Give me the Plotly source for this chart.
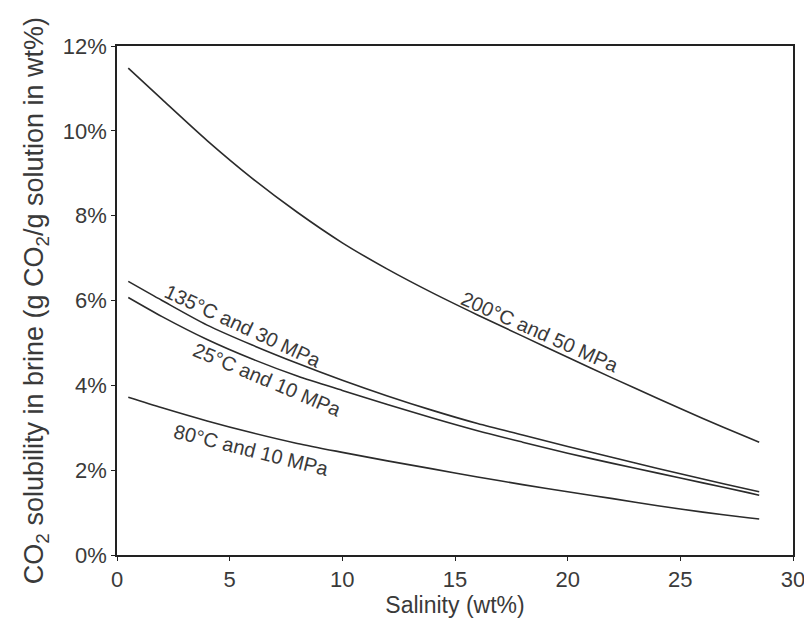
import plotly.graph_objects as go

salinity = [0.5, 2, 4, 6, 8, 10, 12, 14, 16, 18, 20, 22, 24, 26, 28, 28.5]
sol_200C_50MPa = [11.48, 10.74, 9.77, 8.88, 8.08, 7.36, 6.74, 6.18, 5.66, 5.16, 4.66, 4.17, 3.69, 3.22, 2.77, 2.66]
sol_135C_30MPa = [6.45, 6.0, 5.42, 4.95, 4.52, 4.12, 3.75, 3.41, 3.10, 2.83, 2.56, 2.30, 2.04, 1.79, 1.55, 1.49]
sol_25C_10MPa = [6.07, 5.62, 5.08, 4.62, 4.22, 3.88, 3.55, 3.23, 2.93, 2.66, 2.40, 2.16, 1.93, 1.70, 1.47, 1.41]
sol_80C_10MPa = [3.72, 3.47, 3.16, 2.88, 2.63, 2.42, 2.22, 2.03, 1.84, 1.66, 1.49, 1.33, 1.16, 1.01, 0.88, 0.85]

series = [
    ("200°C and 50 MPa", sol_200C_50MPa),
    ("135°C and 30 MPa", sol_135C_30MPa),
    ("25°C and 10 MPa", sol_25C_10MPa),
    ("80°C and 10 MPa", sol_80C_10MPa),
]

# label placement (x, y in data units, rotation)
labels = [
    ("200°C and 50 MPa", 18.77, 5.26, 24),
    ("135°C and 30 MPa", 5.59, 5.40, 25),
    ("25°C and 10 MPa", 6.70, 4.13, 23),
    ("80°C and 10 MPa", 5.95, 2.48, 14),
]

x_ticks = [0, 5, 10, 15, 20, 25, 30]
y_ticks = [0, 2, 4, 6, 8, 10, 12]
y_tick_text = ["0%", "2%", "4%", "6%", "8%", "10%", "12%"]

FONT = "Liberation Sans, Arial, sans-serif"
TXT = "#3a3a3a"

fig = go.Figure()
for name, vals in series:
    fig.add_trace(go.Scatter(
        x=salinity, y=vals, mode="lines", name=name,
        line=dict(color="#2b2b2b", width=1.6, shape="spline", smoothing=0.8),
        showlegend=False, hoverinfo="skip",
    ))

for text, lx, ly, ang in labels:
    fig.add_annotation(
        x=lx, y=ly, text=text, showarrow=False, textangle=ang,
        font=dict(family=FONT, size=20, color=TXT),
    )

fig.update_layout(
    width=812, height=624,
    margin=dict(l=109, r=27, t=38, b=77),
    paper_bgcolor="white", plot_bgcolor="white",
    font=dict(family=FONT, color=TXT),
)
fig.update_xaxes(
    range=[0, 30], tickvals=x_ticks, ticks="outside", ticklen=4,
    tickcolor="#222", tickfont=dict(size=22, color=TXT),
    showline=True, linecolor="#222", linewidth=1.6, mirror=True,
    showgrid=False, zeroline=False,
    title=dict(text="Salinity (wt%)", font=dict(size=23, color=TXT), standoff=2),
)
fig.update_yaxes(
    range=[0, 12], tickvals=y_ticks, ticktext=y_tick_text, ticks="outside", ticklen=4,
    tickcolor="#222", tickfont=dict(size=22, color=TXT),
    showline=True, linecolor="#222", linewidth=1.6, mirror=True,
    showgrid=False, zeroline=False,
    title=dict(text="CO<sub>2</sub> solubility in brine (g CO<sub>2</sub>/g solution in wt%)",
               font=dict(size=27, color=TXT), standoff=11),
)

fig.write_html("out.html")
